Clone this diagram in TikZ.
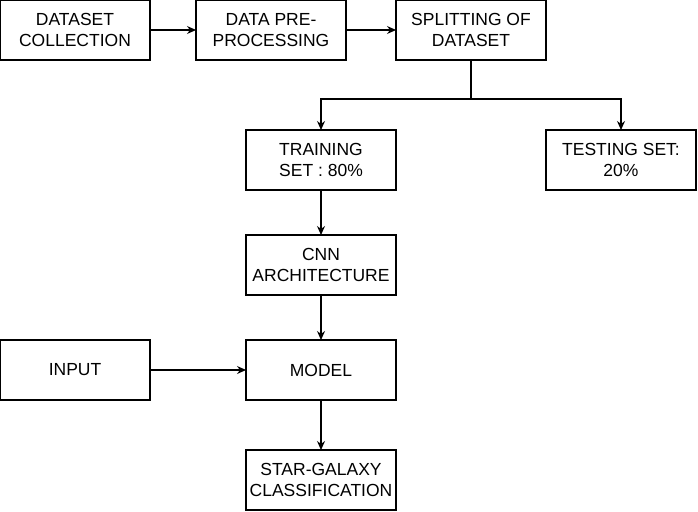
\documentclass[tikz,border=0pt]{standalone}
\usepackage{fontspec}
\setmainfont{Liberation Sans}
\usepackage{tikz}
\usetikzlibrary{arrows.meta,positioning}

\begin{document}
\begin{tikzpicture}[
  x=1pt, y=-1pt,
  block/.style={rectangle, draw=black, line width=1.2pt, minimum width=150pt,
    minimum height=60pt, inner sep=0pt, outer sep=0pt, align=center,
    font=\fontsize{17.5}{21}\selectfont},
  arrow/.style={-{Stealth[length=9pt, width=8pt]}, line width=1.2pt}
]
\useasboundingbox (0,0) rectangle (698,511);
\node (coll) [block] at (75,30) {DATASET\\COLLECTION};
\node (prep) [block, right=46pt of coll] {DATA PRE-\\PROCESSING};
\node (split) [block, right=50pt of prep] {SPLITTING OF\\DATASET};
\node (train) [block] at (321,160) {TRAINING\\SET : 80\%};
\node (test) [block, right=150pt of train] {TESTING SET:\\20\%};
\node (cnn) [block, below=45pt of train] {CNN\\ARCHITECTURE};
\node (model) [block, below=45pt of cnn] {MODEL};
\node (input) [block] at (75,370) {INPUT};
\node (sgc) [block, below=50pt of model] {STAR-GALAXY\\CLASSIFICATION};
\coordinate[below=39pt of split] (fork);

\draw[arrow] (coll) -- (prep);
\draw[arrow] (prep) -- (split);
\draw[line width=1.2pt] (split) -- (fork);
\draw[arrow] (fork) -| (train);
\draw[arrow] (fork) -| (test);
\draw[arrow] (train) -- (cnn);
\draw[arrow] (cnn) -- (model);
\draw[arrow] (input) -- (model);
\draw[arrow] (model) -- (sgc);
\end{tikzpicture}
\end{document}
